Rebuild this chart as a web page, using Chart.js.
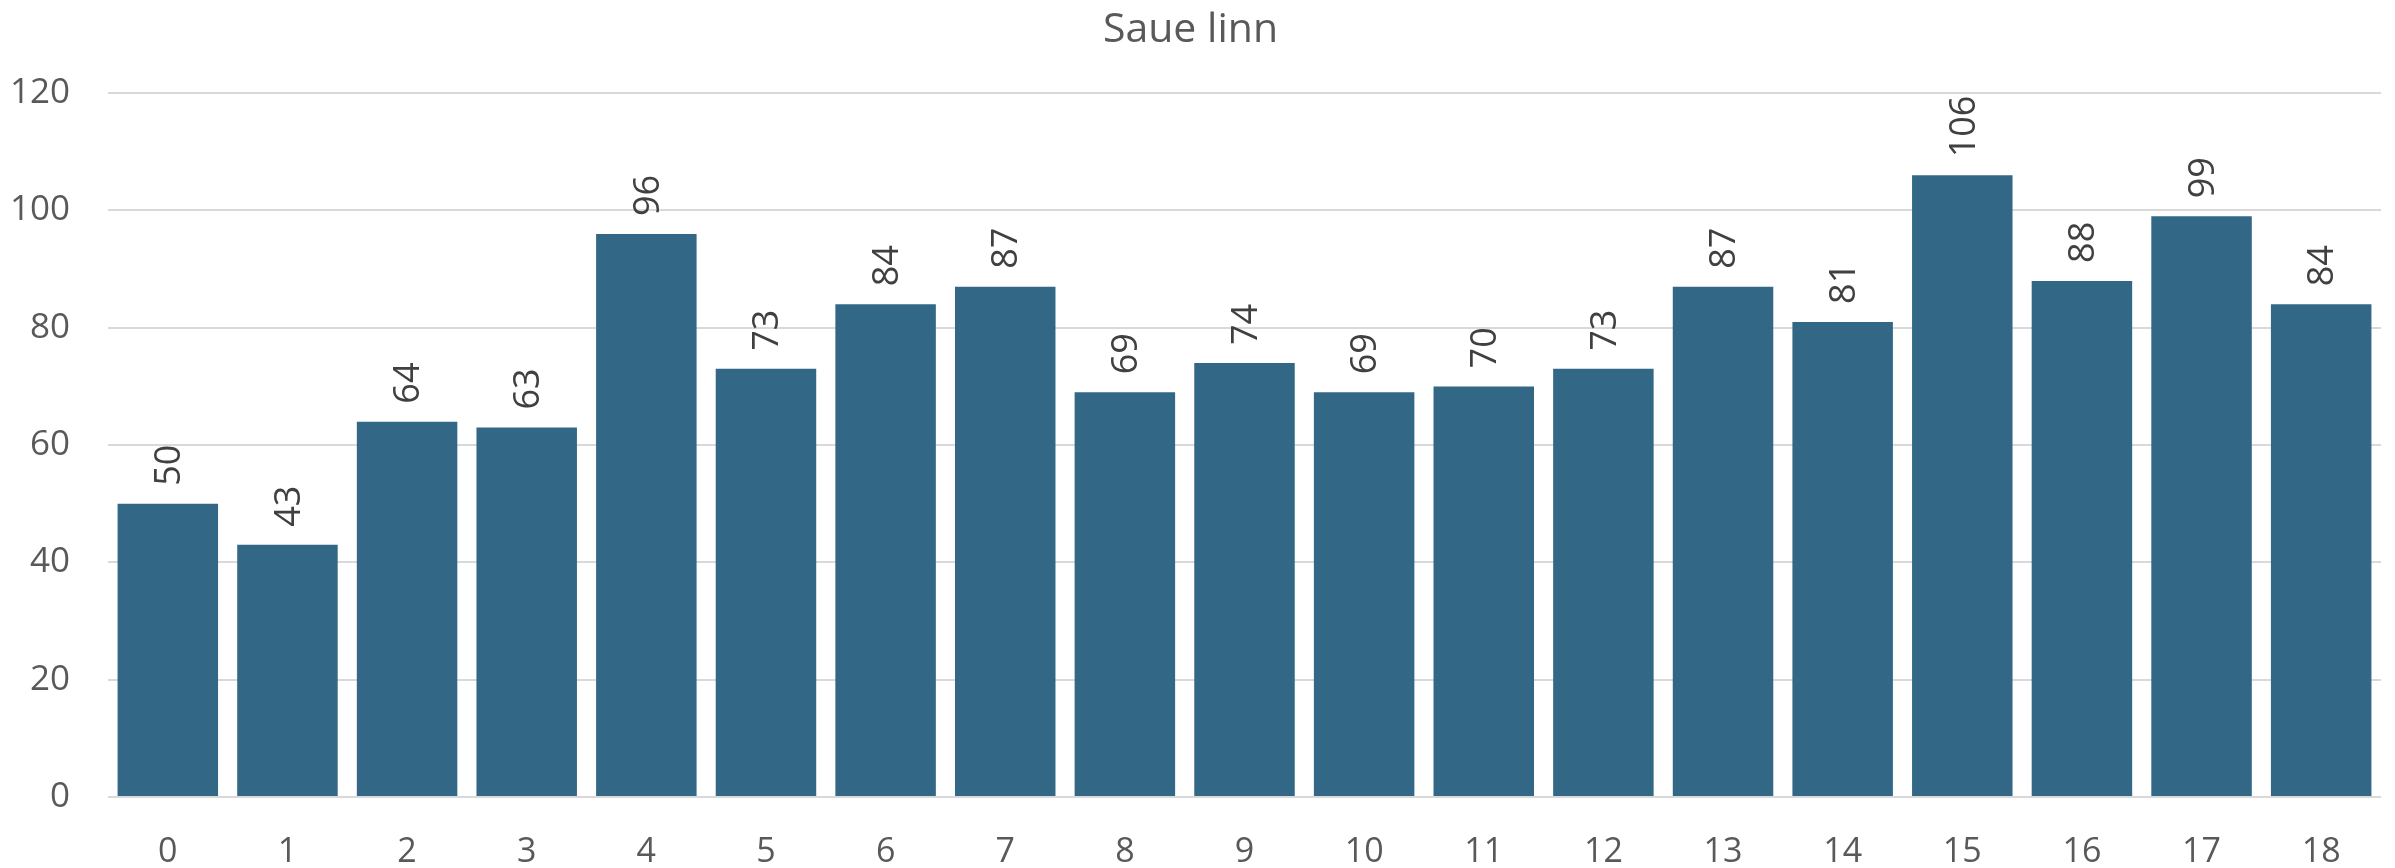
<!DOCTYPE html>
<html>
<head>
<meta charset="utf-8">
<title>Saue linn</title>
<script src="https://cdn.jsdelivr.net/npm/chart.js@4/dist/chart.umd.min.js"></script>
<style>
    html, body {
        margin: 0;
        padding: 0;
        background: #ffffff;
    }
    #wrap {
        width: 2395px;
        height: 868px;
    }
</style>
</head>
<body>
<div id="wrap">
    <canvas id="sauChart" width="2395" height="868"></canvas>
</div>
<script>
const chartTitle = "Saue linn";

const categories = [
    "0", "1", "2", "3", "4", "5", "6", "7", "8", "9",
    "10", "11", "12", "13", "14", "15", "16", "17", "18"
];

const values = [
    50, 43, 64, 63, 96, 73, 84, 87, 69, 74,
    69, 70, 73, 87, 81, 106, 88, 99, 84
];

const yTicks = [0, 20, 40, 60, 80, 100, 120];

const FONT = "'Open Sans', 'Noto Sans', sans-serif";

// value labels written upright above each bar
const barLabels = {
    id: "barLabels",
    afterDatasetsDraw(chart) {

        const ctx = chart.ctx;
        const meta = chart.getDatasetMeta(0);

        ctx.save();
        ctx.fillStyle = "#404040";
        ctx.font = "36px " + FONT;
        ctx.textAlign = "left";
        ctx.textBaseline = "middle";

        meta.data.forEach((bar, i) => {
            ctx.save();
            ctx.translate(bar.x, bar.y - 18);
            ctx.rotate(-Math.PI / 2);
            ctx.fillText(String(values[i]), 0, 2);
            ctx.restore();
        });

        ctx.restore();
    }
};

new Chart(
    document.getElementById("sauChart"),
    {
        type: "bar",
        data: {
            labels: categories,
            datasets: [{
                data: values,
                backgroundColor: "#326886",
                borderWidth: 0,
                barPercentage: 0.84,
                categoryPercentage: 1.0
            }]
        },
        options: {
            responsive: false,
            animation: false,
            layout: {
                padding: {
                    left: 0,
                    right: 14,
                    top: 0,
                    bottom: 0
                }
            },
            plugins: {
                legend: { display: false },
                tooltip: { enabled: false },
                title: {
                    display: true,
                    text: chartTitle,
                    color: "#595959",
                    font: {
                        family: FONT,
                        size: 41,
                        weight: "normal",
                        lineHeight: 1.2
                    },
                    padding: {
                        top: 6,
                        bottom: 38
                    }
                }
            },
            scales: {
                x: {
                    grid: {
                        display: false,
                        drawTicks: false
                    },
                    border: { display: false },
                    ticks: {
                        color: "#595959",
                        padding: 35,
                        maxRotation: 0,
                        font: {
                            family: FONT,
                            size: 34
                        }
                    },
                    afterFit(scale) {
                        scale.height = 71;
                    }
                },
                y: {
                    min: 0,
                    max: 120,
                    afterBuildTicks(scale) {
                        scale.ticks = yTicks.map(v => ({ value: v }));
                    },
                    grid: {
                        color: "#d9d9d9",
                        lineWidth: 2,
                        drawTicks: false
                    },
                    border: { display: false },
                    ticks: {
                        color: "#595959",
                        padding: 38,
                        font: {
                            family: FONT,
                            size: 35
                        }
                    },
                    afterFit(scale) {
                        scale.width = 108;
                    }
                }
            }
        },
        plugins: [barLabels]
    }
);
</script>
</body>
</html>
